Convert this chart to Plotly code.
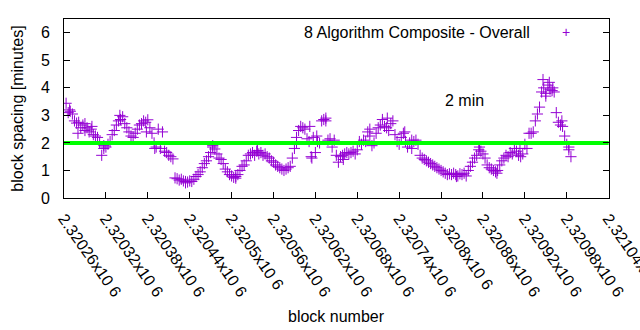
import plotly.graph_objects as go

# ---- data ----
first_block = 2320263
block_step = 3
spacing_min = [
    3.44, 3.10, 3.15, 3.05, 2.80, 2.72, 2.75, 2.55, 2.65, 2.45,
    2.55, 2.40, 2.50, 2.30, 2.25, 2.20, 2.00, 1.55, 1.90, 1.85,
    1.95, 2.05, 2.30, 2.45, 2.65, 2.80, 2.85, 2.95, 2.70, 2.55,
    2.40, 2.25, 2.20, 2.35, 2.50, 2.65, 2.70, 2.80, 2.75, 2.84,
    2.55, 2.35, 2.00, 1.85, 2.50, 1.80, 2.40, 1.70, 1.65, 1.55,
    1.50, 1.42, 0.73, 0.70, 0.65, 0.68, 0.62, 0.60, 0.58, 0.62,
    0.60, 0.68, 0.78, 0.85, 0.95, 1.10, 1.25, 1.35, 1.50, 1.65,
    1.85, 1.78, 1.60, 1.45, 1.40, 1.25, 1.05, 0.95, 0.85, 0.80,
    0.75, 0.78, 0.85, 1.00, 1.15, 1.20, 1.35, 1.55, 1.60, 1.65,
    1.55, 1.70, 1.60, 1.65, 1.55, 1.60, 1.50, 1.45, 1.35, 1.30,
    1.20, 1.15, 1.10, 1.05, 1.00, 1.05, 1.10, 1.15, 1.45, 1.80,
    2.20, 2.45, 2.60, 2.55, 2.50, 2.15, 2.05, 1.50, 2.20, 1.65,
    2.05, 2.00, 2.80, 2.85, 2.80, 2.10, 2.15, 1.85, 2.10, 1.55,
    1.30, 1.50, 1.55, 1.60, 1.65, 1.60, 1.65, 1.70, 1.60, 1.75,
    2.05, 1.95, 2.10, 2.05, 2.40, 2.25, 1.90, 2.00, 2.35, 2.55,
    2.65, 2.85, 2.60, 2.55, 2.45, 2.70, 2.80, 2.30, 2.05, 1.95,
    2.20, 2.35, 2.05, 1.85, 2.00, 2.10, 2.05, 2.10, 1.95, 1.55,
    1.45, 1.40, 1.35, 1.30, 1.25, 1.20, 1.15, 1.10, 1.05, 1.00,
    0.95, 0.90, 0.85, 0.88, 0.85, 0.90, 0.85, 0.80, 0.88, 0.85,
    0.90, 0.80, 1.00, 1.15, 1.30, 1.45, 1.55, 1.75, 1.70, 1.60,
    1.45, 1.20, 1.10, 1.05, 1.00, 0.95, 1.00, 1.20, 1.35, 1.45,
    1.55, 1.50, 1.65, 1.60, 1.80, 1.70, 1.55, 1.50, 1.60, 1.95,
    1.80, 2.35, 2.35, 2.40, 2.80, 3.05, 3.30, 3.85, 4.00, 3.80,
    4.10, 3.95, 3.90, 3.85, 3.10, 2.75, 2.65, 2.60, 2.25, 1.95,
    1.75, 1.50,
]
blocks = [first_block + block_step * i for i in range(len(spacing_min))]

extra_blocks = [
    2320268, 2320280, 2320290, 2320300, 2320317, 2320340, 2320378, 2320390,
    2320434, 2320473, 2320506, 2320537, 2320593, 2320612, 2320615, 2320622,
    2320635, 2320660, 2320698, 2320723, 2320748, 2320758, 2320822, 2320855,
    2320880, 2320913, 2320946, 2320955, 2320950, 2320960, 2320973, 2320983,
]
extra_spacing = [
    3.20, 2.35, 2.70, 2.60, 1.80, 3.00, 2.40, 1.80,
    0.55, 1.90, 0.72, 1.72, 2.00, 2.60, 1.45, 2.25,
    2.90, 1.40, 2.50, 2.90, 2.40, 1.80, 0.78, 1.85,
    0.90, 1.80, 4.30, 4.20, 3.70, 4.00, 2.80, 1.85,
]

all_blocks = blocks + extra_blocks
all_spacing = spacing_min + extra_spacing

target_minutes = 2
x_min, x_max = 2320260, 2321040
tick_vals = [2320260 + 60 * k for k in range(14)]
tick_text = ["2.32026x10 6", "2.32032x10 6", "2.32038x10 6", "2.32044x10 6",
             "2.3205x10 6", "2.32056x10 6", "2.32062x10 6", "2.32068x10 6",
             "2.32074x10 6", "2.3208x10 6", "2.32086x10 6", "2.32092x10 6",
             "2.32098x10 6", "2.32104x10 6"]
y_ticks = [0, 1, 2, 3, 4, 5, 6]

series_name = "8 Algorithm Composite - Overall"
purple = "#9400d3"
green = "#00ff00"
FONT = "Liberation Sans"

fig = go.Figure()
fig.add_trace(go.Scatter(
    x=all_blocks, y=all_spacing, mode="markers", name=series_name,
    marker=dict(symbol="cross-thin", size=8, color=purple,
                line=dict(color=purple, width=1)),
    showlegend=False,
))
fig.add_trace(go.Scatter(
    x=[x_min, x_max], y=[target_minutes, target_minutes], mode="lines",
    line=dict(color=green, width=4), showlegend=False,
))

fig.update_layout(
    width=640, height=330,
    margin=dict(l=64, r=31, t=19, b=132, autoexpand=False),
    paper_bgcolor="white", plot_bgcolor="white",
    font=dict(family=FONT, size=16, color="black"),
    showlegend=False,
)
fig.update_xaxes(
    range=[x_min, x_max + 0.5], tickmode="array", tickvals=tick_vals, ticktext=tick_text,
    tickangle=55, ticks="inside", ticklen=6, tickcolor="black",
    showline=True, linecolor="black", linewidth=1, mirror=True,
    showgrid=False, zeroline=False, ticklabelstandoff=4,
    ticklabeloverflow="allow", automargin=False,
    tickfont=dict(family=FONT, size=16, color="black"),
)
fig.update_yaxes(
    range=[0, 6.5], tickmode="array", tickvals=y_ticks,
    ticks="inside", ticklen=6, tickcolor="black",
    showline=True, linecolor="black", linewidth=1, mirror="allticks",
    showgrid=False, zeroline=False, ticklabelstandoff=10, automargin=False,
    tickfont=dict(family=FONT, size=16, color="black"),
)

fig.add_annotation(text="block spacing [minutes]", xref="paper", yref="paper",
                   x=-0.086, y=0.5, textangle=-90, showarrow=False,
                   xanchor="center", yanchor="middle",
                   font=dict(family=FONT, size=16, color="black"))
fig.add_annotation(text="block number", xref="paper", yref="paper",
                   x=0.5, y=-0.66, showarrow=False,
                   xanchor="center", yanchor="middle",
                   font=dict(family=FONT, size=16, color="black"))
fig.add_annotation(text="2 min", x=2320834, y=3.53, showarrow=False,
                   xanchor="center", yanchor="middle",
                   font=dict(family=FONT, size=16, color="black"))
fig.add_annotation(text=series_name, xref="paper", yref="paper",
                   x=0.859, y=0.927, showarrow=False,
                   xanchor="right", yanchor="middle",
                   font=dict(family=FONT, size=16, color="black"))
fig.add_annotation(text="+", xref="paper", yref="paper",
                   x=0.922, y=0.927, showarrow=False,
                   xanchor="center", yanchor="middle",
                   font=dict(family=FONT, size=14, color=purple))

fig.write_html("out.html")
